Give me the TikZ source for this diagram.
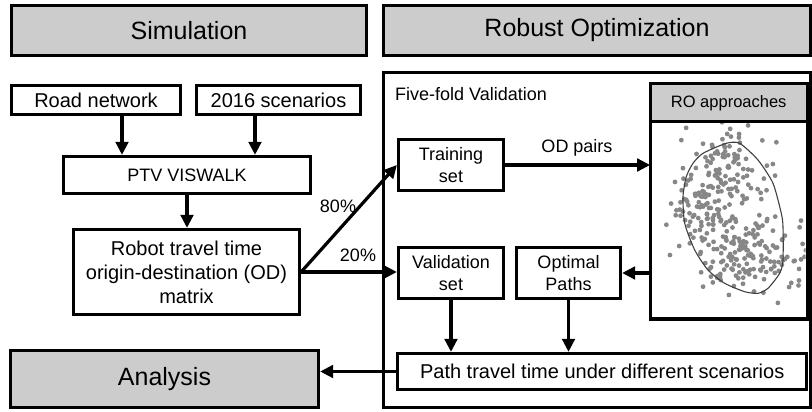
\documentclass[tikz,border=0pt]{standalone}
\usepackage{fontspec}
\setmainfont{Liberation Sans}
\usetikzlibrary{arrows.meta}
\begin{document}
\begin{tikzpicture}[x=1pt,y=-1pt,
 box/.style={draw, line width=3.2pt, inner sep=0pt, align=center, font=\fontsize{20}{24}\selectfont},
 sbox/.style={box, font=\fontsize{18}{22}\selectfont},
 hdr/.style={box, fill=black!20, font=\fontsize{25}{30}\selectfont},
 arr/.style={line width=3.2pt, -{Triangle[length=13pt,width=12.5pt]}},
 lbl/.style={inner sep=0pt, font=\fontsize{18}{22}\selectfont},
 dot/.style={fill=black!47, draw=none}]
\useasboundingbox (0,0) rectangle (812,412);
% headers
\node[hdr, minimum width=355pt, minimum height=50pt] (sim) at (189,30.5) {Simulation};
\node[hdr, minimum width=427pt, minimum height=50pt] (rob) at (597,30.5) {Robust Optimization};
% outer five-fold box
\node[box, minimum width=427pt, minimum height=335pt] (fold) at (597,240) {};
\node[lbl, anchor=west] (foldlbl) at (395,94) {Five-fold Validation};
% simulation side
\node[box, minimum width=169pt, minimum height=29pt] (road) at (96,100) {Road network};
\node[box, minimum width=164pt, minimum height=29pt] (scen) at (278.5,100) {2016 scenarios};
\node[sbox, minimum width=247pt, minimum height=37pt] (ptv) at (187,175) {PTV VISWALK};
\node[box, minimum width=226pt, minimum height=85pt] (robot) at (186.5,272) {Robot travel time\\origin-destination (OD)\\matrix};
\node[hdr, minimum width=308pt, minimum height=57pt] (ana) at (164.5,379) {Analysis};
% robust side
\node[sbox, minimum width=105pt, minimum height=51pt] (train) at (451,165) {Training\\set};
\node[sbox, minimum width=105pt, minimum height=51pt] (valid) at (451,273) {Validation\\set};
\node[sbox, minimum width=104pt, minimum height=51pt] (opt) at (568.5,273) {Optimal\\Paths};
\node[box, minimum width=409pt, minimum height=36pt] (path) at (602.2,371.5) {Path travel time under different scenarios};
% RO approaches box
\node[minimum width=156.7pt, minimum height=234.7pt, inner sep=0pt] (ro) at (728.7,201.35) {};
\fill[black!20] (ro.north west) rectangle ([yshift=-37.7pt]ro.north east);
\begin{scope}
\clip (651.6,123) rectangle (805.5,317.4);
\pgfmathsetseed{11}
\foreach \cx/\cy/\sx/\sy/\n in {721/170/15/19/85, 705/214/17/17/75, 746/258/23/17/115, 735/225/36/50/70}{
 \foreach \i in {1,...,\n}{
  \pgfmathsetmacro\px{\cx+\sx*(rand+rand+rand)}
  \pgfmathsetmacro\py{\cy+\sy*(rand+rand+rand)}
  \fill[dot] (\px,\py) circle[radius=2.4pt];
 }
}
\end{scope}
\draw[black!75, line width=1.1pt] plot[smooth cycle, tension=0.4] coordinates {
 (703,153.3) (726.3,143.3) (739.7,143.3) (758,160) (773,183.3) (781.3,213.3)
 (783,226.7) (783,260) (779.7,273.3) (768,288.3) (758,293.3) (744.7,291.7)
 (724.7,283.3) (708,270) (694.7,250) (684.7,223.3) (683,196.7) (686.3,176.7) (693,163.3)};
\draw[line width=3.2pt] (ro.north west) rectangle (ro.south east);
\draw[line width=3.2pt] ([yshift=-37.7pt]ro.north west) -- ([yshift=-37.7pt]ro.north east);
\node[inner sep=0pt, font=\fontsize{16.5}{20}\selectfont] (rolbl) at (728.7,102.8) {RO approaches};
% connectors
\coordinate (pa) at ([xshift=-65pt]ptv.north);
\coordinate (pb) at ([xshift=68pt]ptv.north);
\draw[arr] (road.south -| pa) -- (pa);
\draw[arr] (scen.south -| pb) -- (pb);
\draw[arr] (ptv.south) -- (ptv.south |- robot.north);
\draw[arr] (robot.east) -- (train.west);
\draw[arr] (robot.east) -- (robot.east -| valid.west);
\node[lbl] (p80) at (338,206) {80\%};
\node[lbl] (p20) at (358,255) {20\%};
\draw[arr] (train.east) -- (train.east -| ro.west);
\node[lbl] (odp) at (577,148) {OD pairs};
\draw[arr] (ro.west |- opt.east) -- (opt.east);
\draw[arr] (valid.south) -- (valid.south |- path.north);
\draw[arr] (opt.south) -- (opt.south |- path.north);
\draw[arr] (path.west) -- (path.west -| ana.east);
\end{tikzpicture}
\end{document}
